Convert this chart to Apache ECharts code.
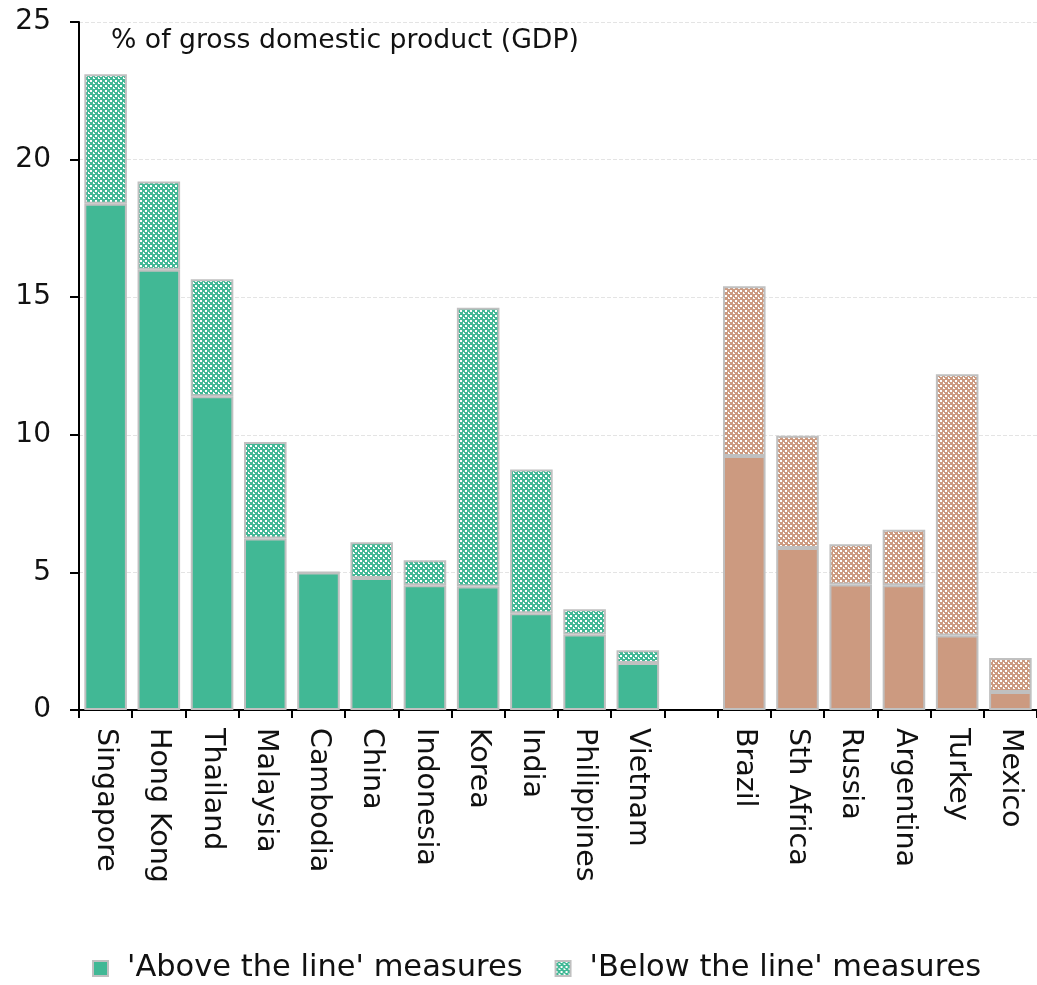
<!DOCTYPE html>
<html>
<head>
<meta charset="utf-8">
<script src="https://cdn.jsdelivr.net/npm/echarts@6/dist/echarts.min.js"></script>
<style>
html,body{margin:0;padding:0;background:#fff;}
#main{width:1037px;height:985px;}
</style>
</head>
<body>
<div id="main"></div>
<script>
// Data
const categories = ['Singapore','Hong Kong','Thailand','Malaysia','Cambodia','China','Indonesia','Korea','India','Philippines','Vietnam','','Brazil','Sth Africa','Russia','Argentina','Turkey','Mexico'];
const groups = ['asia','asia','asia','asia','asia','asia','asia','asia','asia','asia','asia','','em','em','em','em','em','em'];
const aboveLine = [18.4, 16.0, 11.4, 6.23, 5.0, 4.8, 4.53, 4.49, 3.52, 2.74, 1.71, null, 9.23, 5.89, 4.56, 4.53, 2.71, 0.65];
const belowLine = [4.7, 3.2, 4.25, 3.51, 0, 1.3, 0.91, 10.13, 5.22, 0.92, 0.46, null, 6.17, 4.08, 1.46, 2.02, 9.49, 1.24];
const yTicks = [0, 5, 10, 15, 20, 25];
const seriesNames = ["'Above the line' measures", "'Below the line' measures"];

const GREEN = '#41B895';
const BROWN = '#CC9A80';
const BORDER = '#C0C0C0';
const FONT = '"DejaVu Sans", sans-serif';

function makePattern(color) {
  const c = document.createElement('canvas');
  c.width = 5; c.height = 5;
  const ctx = c.getContext('2d');
  ctx.fillStyle = color;
  ctx.fillRect(0, 0, 5, 5);
  ctx.fillStyle = '#ffffff';
  ctx.fillRect(0, 0, 2, 2);
  ctx.fillRect(3, 3, 2, 1);
  ctx.fillRect(3, 2, 1, 2);
  return { image: c, repeat: 'repeat' };
}
const patGreen = makePattern(GREEN);
const patBrown = makePattern(BROWN);

const aboveData = aboveLine.map((v, i) => ({
  value: v,
  itemStyle: { color: groups[i] === 'em' ? BROWN : GREEN }
}));
const belowData = belowLine.map((v, i) => ({
  value: v,
  itemStyle: { color: groups[i] === 'em' ? patBrown : patGreen }
}));

const chart = echarts.init(document.getElementById('main'), null, { renderer: 'canvas' });
chart.setOption({
  animation: false,
  backgroundColor: '#fff',
  title: {
    text: '% of gross domestic product (GDP)',
    left: 106, top: 23,
    textStyle: { fontFamily: FONT, fontSize: 26.7, fontWeight: 'normal', color: '#111' }
  },
  legend: {
    top: 948, left: 87,
    itemWidth: 15, itemHeight: 15, itemGap: 32,
    icon: 'rect',
    textStyle: { fontFamily: FONT, fontSize: 30.5, color: '#111', padding: [0, 0, 0, 14] },
    data: seriesNames
  },
  grid: { left: 79, right: 0, top: 22, bottom: 275, containLabel: false },
  xAxis: {
    type: 'category',
    data: categories,
    axisLine: { lineStyle: { color: '#000', width: 2 } },
    axisTick: { show: true, length: 8, lineStyle: { color: '#000', width: 2 } },
    axisLabel: { rotate: -90, margin: 18, fontFamily: FONT, fontSize: 28.5, color: '#111', interval: 0 }
  },
  yAxis: {
    type: 'value',
    min: yTicks[0], max: yTicks[yTicks.length - 1], interval: 5,
    axisLine: { show: true, lineStyle: { color: '#000', width: 2 } },
    axisTick: { show: true, length: 9, lineStyle: { color: '#000', width: 2 } },
    axisLabel: { margin: 28, fontFamily: FONT, fontSize: 28, color: '#111' },
    splitLine: { show: true, lineStyle: { color: '#e4e4e4', type: 'dashed', width: 1 } }
  },
  series: [
    {
      name: seriesNames[0], type: 'bar', stack: 'total',
      barCategoryGap: '20%',
      itemStyle: { color: GREEN, borderColor: BORDER, borderWidth: 2 },
      data: aboveData
    },
    {
      name: seriesNames[1], type: 'bar', stack: 'total',
      barCategoryGap: '20%',
      itemStyle: { color: patGreen, borderColor: BORDER, borderWidth: 2 },
      data: belowData
    }
  ]
});
</script>
</body>
</html>
